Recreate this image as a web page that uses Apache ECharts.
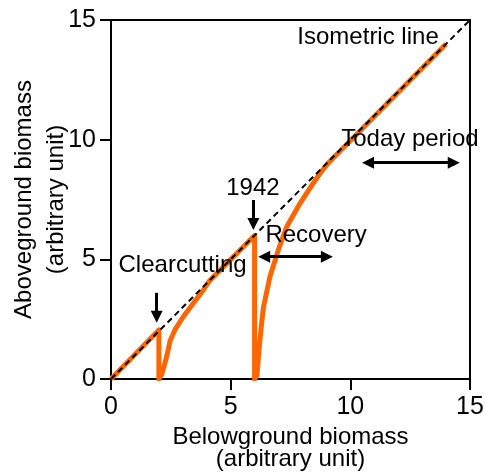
<!DOCTYPE html>
<html lang="en">
<head>
    <meta charset="UTF-8">
    <title>Biomass</title>
    <script src="https://cdn.jsdelivr.net/npm/echarts@6/dist/echarts.min.js"></script>
    <style>
        body { margin: 0; background: #fff; }
        #chart { width: 485px; height: 475px; }
    </style>
</head>
<body>
    <div id="chart"></div>
    <script>
        // isometric line y = x
        var isoLine = [[0, 0], [15, 15]]
        // orange trajectory: growth, clearcut at 2, recovery, cut in 1942 at 6, recovery
        var trajectory = [
            [0, 0], [2, 2.05], [2, 0], [2.12, 0.2], [2.22, 0.55], [2.33, 0.95], [2.47, 1.6],
            [2.67, 2.05], [3.02, 2.6], [3.44, 3.16], [3.86, 3.72], [4.1, 4.08],
            [6, 6], [6, 0], [6.1, 0.15], [6.2, 1.4], [6.27, 2.1], [6.37, 3.0], [6.64, 4.27],
            [6.99, 5.39], [7.34, 6.36], [7.9, 7.34], [8.45, 8.18], [8.8, 8.68], [9.1, 9.05],
            [14, 14]
        ]
        // text annotations [x, y, text]
        var notes = [
            [10.74, 14.29, 'Isometric line'],
            [12.49, 10.03, 'Today period'],
            [8.57, 6.02, 'Recovery'],
            [5.93, 7.98, '1942'],
            [2.99, 4.76, 'Clearcutting']
        ]
        // single arrows pointing down [x, yFrom, yTo] (yTo = centre of the head)
        var downArrows = [[1.91, 3.6, 2.6], [5.95, 7.48, 6.48]]
        // double arrows [y, xFrom, xTo] (ends = centres of the heads)
        var spanArrows = [[5.11, 6.4, 9.02], [9.04, 10.74, 14.32]]

        var font = 'Liberation Sans, Arial, sans-serif'
        var myChart = echarts.init(document.getElementById('chart'))

        var arrowLines = []
        downArrows.forEach(function(a) {
            arrowLines.push([{ coord: [a[0], a[1]], symbol: 'none' }, { coord: [a[0], a[2]], symbol: 'triangle' }])
        })
        spanArrows.forEach(function(a) {
            arrowLines.push([{ coord: [a[1], a[0]], symbol: 'triangle' }, { coord: [a[2], a[0]], symbol: 'triangle' }])
        })

        var option = {
            animation: false,
            grid: {
                left: 111, right: 15, top: 20, bottom: 96,
                outerBoundsMode: 'none', containLabel: false,
                show: true, borderColor: '#000', borderWidth: 2
            },
            xAxis: {
                type: 'value', min: 0, max: 15, interval: 5,
                name: 'Belowground biomass\n(arbitrary unit)',
                nameLocation: 'middle', nameGap: 47, nameMoveOverlap: false,
                nameTextStyle: { fontFamily: font, fontSize: 24, color: '#000', lineHeight: 22 },
                axisLine: { lineStyle: { color: '#000', width: 2 } },
                axisTick: { length: 11, lineStyle: { color: '#000', width: 2 } },
                axisLabel: { fontFamily: font, fontSize: 25, color: '#000', margin: 16 },
                splitLine: { show: false }
            },
            yAxis: {
                type: 'value', min: 0, max: 15, interval: 5,
                name: 'Aboveground biomass\n(arbitrary unit)',
                nameLocation: 'middle', nameGap: 39, nameMoveOverlap: false,
                nameTextStyle: { fontFamily: font, fontSize: 24, color: '#000', lineHeight: 32 },
                axisLine: { lineStyle: { color: '#000', width: 2 } },
                axisTick: { length: 11, lineStyle: { color: '#000', width: 2 } },
                axisLabel: { fontFamily: font, fontSize: 25, color: '#000', margin: 15 },
                splitLine: { show: false }
            },
            series: [{
                type: 'line',
                data: trajectory,
                showSymbol: false,
                lineStyle: { color: '#ff6600', width: 5, join: 'round' },
                z: 2
            }, {
                type: 'line',
                data: isoLine,
                showSymbol: false,
                lineStyle: { color: '#000', width: 2, type: [6, 4] },
                z: 3,
                markLine: {
                    silent: true,
                    animation: false,
                    symbolSize: [12, 12],
                    label: { show: false },
                    lineStyle: { color: '#000', width: 3, type: 'solid' },
                    data: arrowLines
                }
            }, {
                type: 'scatter',
                data: notes,
                symbolSize: 0,
                z: 4,
                itemStyle: { opacity: 1 },
                label: {
                    show: true,
                    position: 'inside',
                    opacity: 1,
                    formatter: function(p) { return p.data[2] },
                    fontFamily: font, fontSize: 24, color: '#000'
                }
            }]
        }
        myChart.setOption(option)
    </script>
</body>
</html>
